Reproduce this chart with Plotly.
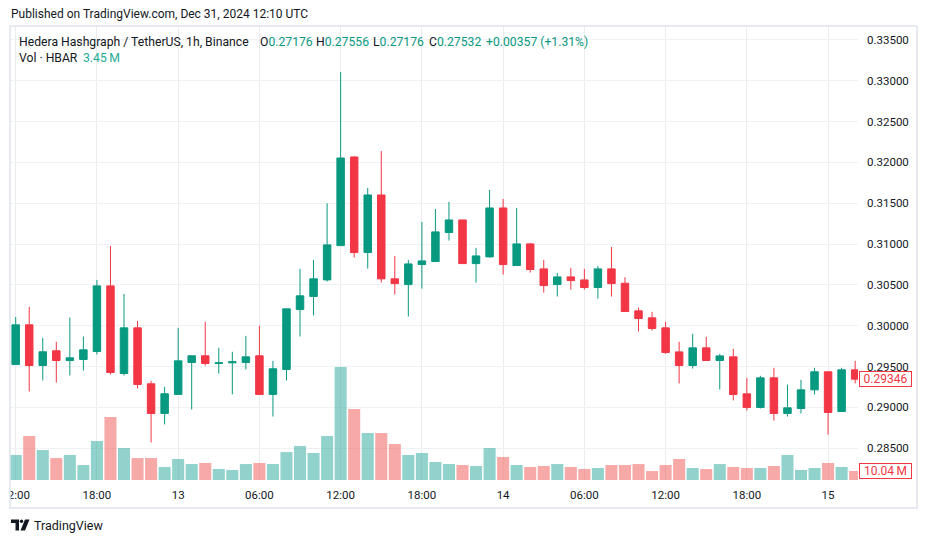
import plotly.graph_objects as go
import pandas as pd

# ---------------- data ----------------
START = "2024-12-12 12:00"
OPEN = [0.29525, 0.30011, 0.29513, 0.29693, 0.29574, 0.29587, 0.29685, 0.30488, 0.29415, 0.29974,
        0.29289, 0.28926, 0.29159, 0.29550, 0.29632, 0.29538, 0.29546, 0.29550, 0.29632, 0.29159,
        0.29464, 0.30198, 0.30358, 0.30561, 0.30981, 0.32066, 0.30896, 0.31601, 0.30574, 0.30504,
        0.30749, 0.30786, 0.31141, 0.31295, 0.30761, 0.30843, 0.31442, 0.30737, 0.31002, 0.30696,
        0.30504, 0.30598, 0.30561, 0.30468, 0.30696, 0.30520, 0.30182, 0.30097, 0.29974, 0.29680,
        0.29513, 0.29729, 0.29574, 0.29619, 0.29166, 0.29000, 0.29362, 0.28926, 0.28987, 0.29215,
        0.29436, 0.28950, 0.29460]
HIGH = [0.30108, 0.30231, 0.29852, 0.29803, 0.30100, 0.29868, 0.30561, 0.30977, 0.30390, 0.30060,
        0.29326, 0.29252, 0.29974, 0.29632, 0.30048, 0.29730, 0.29681, 0.29876, 0.29999, 0.29570,
        0.30207, 0.30696, 0.30806, 0.31499, 0.33106, 0.32078, 0.31687, 0.32140, 0.30855, 0.30806,
        0.31271, 0.31430, 0.31516, 0.31295, 0.30953, 0.31662, 0.31552, 0.31442, 0.31014, 0.30806,
        0.30647, 0.30708, 0.30696, 0.30733, 0.30965, 0.30594, 0.30223, 0.30170, 0.30048, 0.29803,
        0.29901, 0.29864, 0.29656, 0.29717, 0.29362, 0.29387, 0.29485, 0.29280, 0.29338, 0.29485,
        0.29436, 0.29485, 0.29570]
LOW = [0.29520, 0.29195, 0.29330, 0.29305, 0.29391, 0.29452, 0.29648, 0.29403, 0.29391, 0.29232,
       0.28571, 0.28792, 0.29159, 0.28975, 0.29513, 0.29415, 0.29159, 0.29464, 0.29159, 0.28889,
       0.29330, 0.29868, 0.30125, 0.30540, 0.30981, 0.30835, 0.30700, 0.30529, 0.30382, 0.30113,
       0.30455, 0.30786, 0.31043, 0.30761, 0.30529, 0.30835, 0.30627, 0.30737, 0.30651, 0.30406,
       0.30358, 0.30443, 0.30443, 0.30333, 0.30358, 0.30174, 0.29929, 0.29941, 0.29656, 0.29293,
       0.29476, 0.29574, 0.29219, 0.29085, 0.28962, 0.28987, 0.28840, 0.28889, 0.28926, 0.29158,
       0.28668, 0.28950, 0.29293]
CLOSE = [0.30011, 0.29513, 0.29681, 0.29574, 0.29607, 0.29705, 0.30488, 0.29428, 0.29974, 0.29281,
         0.28926, 0.29167, 0.29570, 0.29632, 0.29538, 0.29546, 0.29558, 0.29619, 0.29159, 0.29473,
         0.30207, 0.30366, 0.30574, 0.30990, 0.32054, 0.30896, 0.31601, 0.30574, 0.30516, 0.30757,
         0.30794, 0.31149, 0.31295, 0.30761, 0.30855, 0.31442, 0.30749, 0.31002, 0.30688, 0.30492,
         0.30598, 0.30553, 0.30468, 0.30696, 0.30516, 0.30174, 0.30088, 0.29966, 0.29672, 0.29513,
         0.29729, 0.29574, 0.29631, 0.29158, 0.29000, 0.29362, 0.28926, 0.28995, 0.29215, 0.29436,
         0.28938, 0.29460, 0.29346]
VOLUME_M = [27.9, 49.1, 33.5, 24.5, 27.9, 16.7, 43.5, 70.3, 35.7, 24.5,
            24.5, 14.5, 23.4, 17.8, 19.0, 12.3, 11.2, 17.8, 19.0, 17.8,
            31.2, 37.9, 30.1, 49.1, 126.1, 79.2, 52.4, 52.4, 40.2, 27.9,
            30.1, 20.1, 17.8, 16.7, 15.6, 35.7, 25.7, 16.7, 14.5, 15.6,
            17.8, 14.5, 12.3, 13.4, 16.7, 16.7, 17.8, 10.0, 16.7, 23.4,
            13.4, 12.3, 17.8, 14.5, 13.4, 13.4, 15.6, 27.9, 11.2, 13.4,
            19.0, 14.5, 10.04]

TICK_TIMES = ["2024-12-12 12:00", "2024-12-12 18:00", "2024-12-13 00:00", "2024-12-13 06:00",
              "2024-12-13 12:00", "2024-12-13 18:00", "2024-12-14 00:00", "2024-12-14 06:00",
              "2024-12-14 12:00", "2024-12-14 18:00", "2024-12-15 00:00"]
TICK_LABELS = ["12:00", "18:00", "13", "06:00", "12:00", "18:00", "14", "06:00", "12:00", "18:00", "15"]
PRICE_TICKS = [0.285, 0.290, 0.295, 0.300, 0.305, 0.310, 0.315, 0.320, 0.325, 0.330, 0.335]

TITLE = "Published on TradingView.com, Dec 31, 2024 12:10 UTC"
SYMBOL = "Hedera Hashgraph / TetherUS, 1h, Binance"
HDR_O, HDR_H, HDR_L, HDR_C = "0.27176", "0.27556", "0.27176", "0.27532"
HDR_CHG = "+0.00357 (+1.31%)"
VOL_NAME = "Vol · HBAR"
VOL_HDR = "3.45\u2009M"

# ---------------- style ----------------
W, H = 928, 543
UP, DOWN = "#089981", "#f23645"
VOL_UP, VOL_DOWN = "rgba(38,166,154,0.5)", "rgba(239,83,80,0.5)"
TXT = "#131722"
FONT = "Roboto"


def px(x):
    return x / W


def py(y):
    return 1 - y / H


times = pd.date_range(START, periods=len(OPEN), freq="h")
vol_colors = [VOL_UP if c >= o else VOL_DOWN for o, c in zip(OPEN, CLOSE)]
hour = pd.Timedelta(hours=1)

fig = go.Figure()
fig.add_trace(go.Bar(
    x=times, y=VOLUME_M, marker=dict(color=vol_colors, line=dict(width=0)),
    width=0.89 * 3600000, xaxis="x", yaxis="y", hoverinfo="skip"))
fig.add_trace(go.Candlestick(
    x=times, open=OPEN, high=HIGH, low=LOW, close=CLOSE,
    increasing=dict(line=dict(color=UP, width=1), fillcolor=UP),
    decreasing=dict(line=dict(color=DOWN, width=1), fillcolor=DOWN),
    whiskerwidth=0, xaxis="x", yaxis="y2"))

ydom = [py(480), py(25)]
fig.update_layout(
    template="none",
    width=W, height=H, margin=dict(l=0, r=0, t=0, b=0, pad=0, autoexpand=False),
    paper_bgcolor="white", plot_bgcolor="white", showlegend=False,
    boxgap=0.21,
    font=dict(family=FONT, size=12, color=TXT),
    xaxis=dict(
        domain=[px(10), px(858)], type="date", automargin=False,
        range=[times[0] - 0.42 * hour, times[0] + 62.21 * hour],
        tickvals=TICK_TIMES, ticktext=TICK_LABELS, tickangle=0,
        showgrid=True, gridcolor="#ececef", gridwidth=1,
        zeroline=False, showline=False, ticks="",
        ticklabelstandoff=6,
        tickfont=dict(family=FONT, size=11.5, color=TXT),
        rangeslider=dict(visible=False)),
    yaxis=dict(domain=ydom, range=[0, 507.6], visible=False, showgrid=False, zeroline=False,
               automargin=False),
    yaxis2=dict(
        overlaying="y", side="right", anchor="x", automargin=False,
        range=[0.281114, 0.336819], tickvals=PRICE_TICKS, tickformat=".5f",
        showgrid=True, gridcolor="#f0f1f4", gridwidth=1, zeroline=False, showline=False,
        ticks="", ticklabelstandoff=8,
        tickfont=dict(family=FONT, size=11.5, color=TXT)),
)

ann = []


def text(x, y, s, size=12, color=TXT, anchor="left"):
    ann.append(dict(x=px(x), y=py(y), xref="paper", yref="paper", text=s, showarrow=False,
                    xanchor=anchor, yanchor="middle",
                    font=dict(family=FONT, size=size, color=color)))


text(9, 14.5, TITLE, size=12)
text(17, 42, SYMBOL, size=12.2)
green = lambda s: f'<span style="color:{UP}">{s}</span>'
text(258, 42, "O" + green(HDR_O), size=12.2)
text(314, 42, "H" + green(HDR_H), size=12.2)
text(371, 42, "L" + green(HDR_L), size=12.2)
text(427, 42, "C" + green(HDR_C), size=12.2)
text(484, 42, green(HDR_CHG), size=12.2)
text(17, 58, VOL_NAME, size=12.2)
text(81, 58, f'<span style="color:#22ab94">{VOL_HDR}</span>', size=12.2)
text(32, 525, "TradingView", size=12.5)

last_col = UP if CLOSE[-1] >= OPEN[-1] else DOWN
for yv, yr, label in [(CLOSE[-1], "y2", f"{CLOSE[-1]:.5f}"),
                      (VOLUME_M[-1], "y", f"{VOLUME_M[-1]:.2f}\u2009M")]:
    ann.append(dict(x=px(859), xref="paper", xanchor="left", y=yv, yref=yr, yanchor="middle",
                    text=label, showarrow=False, bgcolor="white", bordercolor=last_col,
                    borderwidth=1, borderpad=1, width=49, height=12, align="center",
                    font=dict(family=FONT, size=12, color=last_col)))
fig.update_layout(annotations=ann)

shapes = [
    # cover for the clipped first time label
    dict(type="rect", xref="paper", yref="paper", x0=0, x1=px(10), y0=py(508), y1=py(480),
         fillcolor="white", line=dict(width=0), layer="above"),
    # chart frame
    dict(type="rect", xref="paper", yref="paper", x0=px(10), x1=px(917), y0=py(508), y1=py(26),
         line=dict(color="#e0e3eb", width=1.5), fillcolor="rgba(0,0,0,0)", layer="above"),
    # TradingView logo
    dict(type="path", xref="paper", yref="paper",
         path=(f"M {px(11)},{py(519.5)} L {px(19)},{py(519.5)} L {px(19)},{py(530.5)} "
               f"L {px(15.5)},{py(530.5)} L {px(15.5)},{py(523)} L {px(11)},{py(523)} Z"),
         fillcolor=TXT, line=dict(width=0), layer="above"),
    dict(type="circle", xref="paper", yref="paper", x0=px(19.8), x1=px(23.2), y0=py(523), y1=py(519.5),
         fillcolor=TXT, line=dict(width=0), layer="above"),
    dict(type="path", xref="paper", yref="paper",
         path=(f"M {px(25)},{py(519.5)} L {px(29.5)},{py(519.5)} L {px(25)},{py(530.5)} "
               f"L {px(20.5)},{py(530.5)} Z"),
         fillcolor=TXT, line=dict(width=0), layer="above"),
]
fig.update_layout(shapes=shapes)

fig.write_html(
    "out.html",
    config={"displayModeBar": False},
    post_script="document.body.style.margin='0';document.body.style.overflow='hidden';")
